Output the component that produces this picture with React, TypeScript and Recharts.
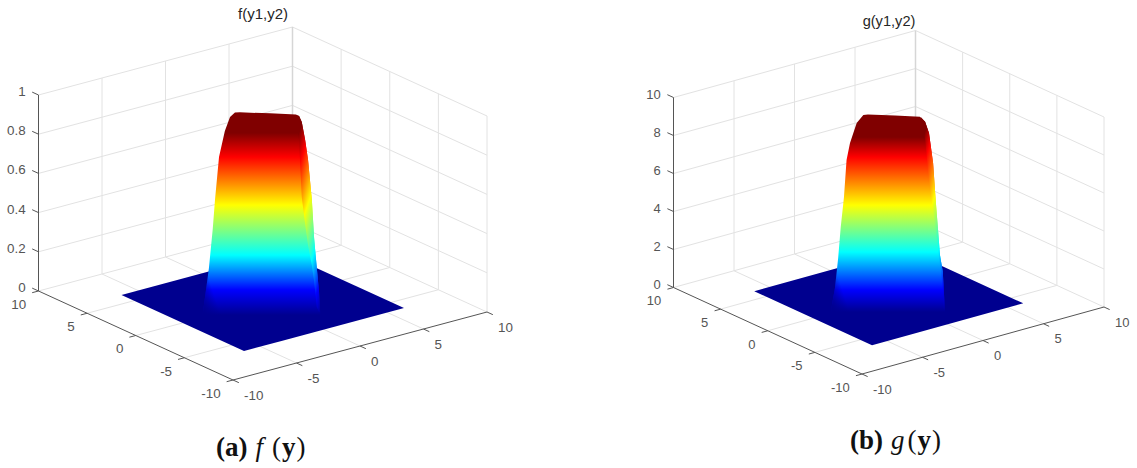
import { Area, ComposedChart, Line, Scatter, XAxis, YAxis } from 'recharts';

const WIDTH = 568;
const HEIGHT = 468;

const axisTicks = [-10, -5, 0, 5, 10];
const axisLabels = ['-10', '-5', '0', '5', '10'];
const fHeightTicks = [0, 0.2, 0.4, 0.6, 0.8, 1];
const fHeightLabels = ['0', '0.2', '0.4', '0.6', '0.8', '1'];
const gHeightTicks = [0, 2, 4, 6, 8, 10];
const gHeightLabels = ['0', '2', '4', '6', '8', '10'];

// surface outline seen from the view point: position across the plate and height
const fCrestSpan = [-2.67, -2.58, -2.4, -2.23, -2.13, -1.95, -1.69, -1.46, -1.24, -1.02, 0.32, 1.48, 1.62, 1.74, 1.89, 2.02, 2.19, 2.29, 2.41, 2.51, 2.56];
const fCrest = [-0.059, 0.018, 0.171, 0.37, 0.518, 0.737, 0.87, 0.941, 0.964, 0.965, 0.96, 0.954, 0.946, 0.916, 0.824, 0.722, 0.518, 0.324, 0.171, 0.048, -0.054];
const gCrestSpan = [-2.65, -2.5, -2.35, -2.23, -2.08, -1.96, -1.8, -1.49, -1.18, -0.97, 0.29, 1.45, 1.69, 1.87, 2.06, 2.18, 2.29, 2.38, 2.51, 2.56, 2.61];
const gCrest = [-0.497, 0.487, 2.07, 3.7, 5.28, 7.22, 8.12, 9.17, 9.59, 9.62, 9.57, 9.5, 9.24, 8.64, 7.07, 5.12, 3.54, 2.22, 1.34, 0.29, -0.67];

// narrow right hand face of the surface
const fFaceSpan = [1.53, 1.62, 1.74, 1.89, 2.02, 2.19, 2.29, 2.41, 2.51, 2.56];
const fFaceOuter = [0.949, 0.946, 0.916, 0.824, 0.722, 0.518, 0.324, 0.171, 0.048, -0.054];
const fFaceInner = [0.944, 0.819, 0.533, 0.395, 0.288, 0.186, 0.105, -0.028, -0.054, -0.054];
const gFaceSpan = [1.5, 1.69, 1.87, 2.06, 2.18, 2.29, 2.38, 2.51, 2.56, 2.61];
const gFaceOuter = [9.48, 9.24, 8.64, 7.07, 5.12, 3.54, 2.22, 1.34, 0.29, -0.67];
const gFaceInner = [9.4, 8.3, 6.0, 4.4, 3.4, 2.5, 1.6, 0.4, -0.6, -0.67];

// heights where the colormap reaches each color
const jetColors = ['#800000', '#ff0000', '#ffff00', '#00ffff', '#0000ff', '#00008f'];
const fJetHeights = [0.86, 0.737, 0.492, 0.237, 0.059, -0.069];
const gJetHeights = [8.43, 7.38, 4.85, 2.38, 0.38, -0.776];

const FONT = '"Liberation Sans", Arial, sans-serif';
const GRID = '#e2e2e2';
const AXIS = '#555555';
const LABEL = '#555555';

interface PanelConfig {
  id: string;
  left: number;
  front: [number, number];
  uEdge: [number, number];
  vEdge: [number, number];
  floorToTop: number;
  heightTicks: number[];
  heightLabels: string[];
  crestSpan: number[];
  crest: number[];
  foot: number;
  faceSpan: number[];
  faceOuter: number[];
  faceInner: number[];
  jetHeights: number[];
  plateEdge: number;
  title: string;
  titleX: number;
  titleY: number;
  titleSize: number;
  labelSize: number;
}

const panelF: PanelConfig = {
  id: 'f',
  left: 0,
  front: [233, 380],
  uEdge: [254, -68],
  vEdge: [-194.5, -89],
  floorToTop: 196,
  heightTicks: fHeightTicks,
  heightLabels: fHeightLabels,
  crestSpan: fCrestSpan,
  crest: fCrest,
  foot: -0.074,
  faceSpan: fFaceSpan,
  faceOuter: fFaceOuter,
  faceInner: fFaceInner,
  jetHeights: fJetHeights,
  plateEdge: 6.3,
  title: 'f(y1,y2)',
  titleX: 263,
  titleY: 19,
  titleSize: 15,
  labelSize: 13.4,
};

const panelG: PanelConfig = {
  id: 'g',
  left: 569,
  front: [862, 374],
  uEdge: [242, -67],
  vEdge: [-188.5, -86.5],
  floorToTop: 190,
  heightTicks: gHeightTicks,
  heightLabels: gHeightLabels,
  crestSpan: gCrestSpan,
  crest: gCrest,
  foot: -0.83,
  faceSpan: gFaceSpan,
  faceOuter: gFaceOuter,
  faceInner: gFaceInner,
  jetHeights: gJetHeights,
  plateEdge: 6.25,
  title: 'g(y1,y2)',
  titleX: 889,
  titleY: 26,
  titleSize: 14.6,
  labelSize: 13,
};

type Pt = { x: number; y: number };

function project(p: PanelConfig, u: number, v: number, z = 0): Pt {
  const top = p.heightTicks[p.heightTicks.length - 1];
  return {
    x: p.front[0] + ((u + 10) / 20) * p.uEdge[0] + ((v + 10) / 20) * p.vEdge[0],
    y: p.front[1] + ((u + 10) / 20) * p.uEdge[1] + ((v + 10) / 20) * p.vEdge[1] - (z / top) * p.floorToTop,
  };
}

// position on the picture plane, measured from the middle of the plate
function plane(p: PanelConfig, span: number, z: number): Pt {
  const mid = project(p, 0, 0);
  const top = p.heightTicks[p.heightTicks.length - 1];
  return {
    x: mid.x + (span * (p.uEdge[0] - p.vEdge[0])) / 20,
    y: mid.y - (z / top) * p.floorToTop,
  };
}

function gridLines(p: PanelConfig): Pt[][] {
  const lines: Pt[][] = [];
  const top = p.heightTicks[p.heightTicks.length - 1];
  p.heightTicks.forEach((z) => {
    lines.push([project(p, -10, 10, z), project(p, 10, 10, z), project(p, 10, -10, z)]);
  });
  axisTicks.forEach((t) => {
    if (t > -10 && t < 10) lines.push([project(p, t, 10, 0), project(p, t, 10, top)]);
    if (t > -10 && t < 10) lines.push([project(p, 10, t, 0), project(p, 10, t, top)]);
    if (t > -10 && t < 10) {
      lines.push([project(p, t, -10), project(p, t, 10)]);
      lines.push([project(p, -10, t), project(p, 10, t)]);
    }
  });
  lines.push([project(p, 10, -10, 0), project(p, 10, -10, top)]);
  return lines;
}

function axisLines(p: PanelConfig): Pt[][] {
  const top = p.heightTicks[p.heightTicks.length - 1];
  const lines: Pt[][] = [
    [project(p, -10, 10, 0), project(p, -10, 10, top)],
    [project(p, -10, 10), project(p, -10, -10), project(p, 10, -10)],
  ];
  p.heightTicks.forEach((z) => {
    lines.push([project(p, -10, 10, z), project(p, -10, 10.65, z)]);
  });
  axisTicks.forEach((t) => {
    lines.push([project(p, -10, t), project(p, -10.5, t)]);
    lines.push([project(p, t, -10), project(p, t, -10.6)]);
  });
  return lines;
}

function tickText(p: PanelConfig) {
  const rows: { x: number; y: number; text: string; anchor: string }[] = [];
  p.heightTicks.forEach((z, i) => {
    const at = project(p, -10, 10, z);
    rows.push({ x: at.x - 12.8, y: at.y - 3.5, text: p.heightLabels[i], anchor: 'end' });
  });
  axisTicks.forEach((t, i) => {
    const a = project(p, -10, t);
    rows.push({ x: a.x - 12.3, y: a.y + 13.3, text: axisLabels[i], anchor: 'end' });
    const b = project(p, t, -10);
    rows.push({ x: b.x + 11, y: b.y + 15, text: axisLabels[i], anchor: 'start' });
  });
  return rows;
}

function plateRows(p: PanelConfig) {
  const e = p.plateEdge;
  const l = project(p, -e, e);
  const f = project(p, -e, -e);
  const b = project(p, e, e);
  const r = project(p, e, -e);
  const along = (s: Pt, t: Pt, x: number) => s.y + ((x - s.x) / (t.x - s.x)) * (t.y - s.y);
  return [
    { x: l.x, range: [l.y, l.y] },
    { x: f.x, range: [along(l, b, f.x), f.y] },
    { x: b.x, range: [b.y, along(f, r, b.x)] },
    { x: r.x, range: [r.y, r.y] },
  ];
}

function Panel({ p }: { p: PanelConfig }) {
  const footY = plane(p, 0, p.foot).y;
  const crestRows = p.crestSpan.map((s, i) => {
    const at = plane(p, s, p.crest[i]);
    return { x: at.x, range: [at.y, footY] };
  });
  const faceRows = p.faceSpan.map((s, i) => {
    const outer = plane(p, s, p.faceOuter[i]);
    const inner = plane(p, s, p.faceInner[i]);
    return { x: outer.x, range: [outer.y, inner.y] };
  });
  const stopY = p.jetHeights.map((z) => plane(p, 0, z).y);
  const y0 = stopY[0];
  const y1 = stopY[stopY.length - 1];

  // colors on the face climb towards its outer edge
  const foldA = { x: faceRows[0].x, y: faceRows[0].range[1] };
  const last = faceRows[faceRows.length - 1];
  const foldB = { x: last.x, y: last.range[1] };
  const lean = (foldB.x - foldA.x) / (foldB.y - foldA.y);
  const climb = 2.2;
  const gx = climb;
  const gy = 1 - climb * lean;
  const norm = gx * gx + gy * gy;
  const faceAt = (s: number) => ({
    x: foldA.x - p.left + (gx * (s - foldA.y)) / norm,
    y: foldA.y + (gy * (s - foldA.y)) / norm,
  });
  const faceStart = faceAt(y0);
  const faceEnd = faceAt(y1);

  // the lower left corner sinks into the plate color
  const corner = { x: crestRows[0].x - p.left, y: footY - 2 };
  const fadeRows = crestRows.filter((r) => r.x < crestRows[0].x + 25);
  const fadeX = corner.x + 10;
  const fadeY = corner.y - 23;

  const stops = jetColors.map((c, i) => (
    <stop key={c} offset={(stopY[i] - y0) / (y1 - y0)} stopColor={c} />
  ));

  return (
    <div style={{ position: 'absolute', left: p.left, top: 0, width: WIDTH, height: HEIGHT }}>
      <ComposedChart width={WIDTH} height={HEIGHT} margin={{ top: 0, right: 0, bottom: 0, left: 0 }}>
        <defs>
          <linearGradient id={`jet-${p.id}`} gradientUnits="userSpaceOnUse" x1={0} x2={0} y1={y0} y2={y1}>
            {stops}
          </linearGradient>
          <linearGradient
            id={`jet-face-${p.id}`}
            gradientUnits="userSpaceOnUse"
            x1={faceStart.x}
            y1={faceStart.y}
            x2={faceEnd.x}
            y2={faceEnd.y}
          >
            {stops}
          </linearGradient>
          <linearGradient
            id={`fade-${p.id}`}
            gradientUnits="userSpaceOnUse"
            x1={fadeX}
            y1={fadeY}
            x2={fadeX - 15.5}
            y2={fadeY + 5.2}
          >
            <stop offset={0} stopColor="#00008f" stopOpacity={0} />
            <stop offset={1} stopColor="#00008f" stopOpacity={1} />
          </linearGradient>
        </defs>
        <XAxis type="number" dataKey="x" domain={[p.left, p.left + WIDTH]} hide allowDataOverflow />
        <YAxis type="number" dataKey="y" domain={[0, HEIGHT]} reversed hide allowDataOverflow />
        {gridLines(p).map((pts, i) => (
          <Line
            key={`grid-${i}`}
            data={pts}
            dataKey="y"
            stroke={GRID}
            strokeWidth={1}
            dot={false}
            activeDot={false}
            isAnimationActive={false}
            zIndex={10}
          />
        ))}
        <Line
          data={[project(p, 10, 10, 0), project(p, 10, 10, p.heightTicks[p.heightTicks.length - 1])]}
          dataKey="y"
          stroke="#d6d6d6"
          strokeWidth={1.5}
          dot={false}
          activeDot={false}
          isAnimationActive={false}
          zIndex={11}
        />
        {axisLines(p).map((pts, i) => (
          <Line
            key={`axis-${i}`}
            data={pts}
            dataKey="y"
            stroke={AXIS}
            strokeWidth={1}
            dot={false}
            activeDot={false}
            isAnimationActive={false}
            zIndex={20}
          />
        ))}
        <Area data={plateRows(p)} dataKey="range" type="linear" fill="#00008f" fillOpacity={1} stroke="none" dot={false} activeDot={false} isAnimationActive={false} zIndex={30} />
        <Area data={crestRows} dataKey="range" type="linear" fill={`url(#jet-${p.id})`} fillOpacity={1} stroke="none" dot={false} activeDot={false} isAnimationActive={false} zIndex={31} />
        <Area data={faceRows} dataKey="range" type="linear" fill={`url(#jet-face-${p.id})`} fillOpacity={1} stroke="none" dot={false} activeDot={false} isAnimationActive={false} zIndex={32} />
        <Area data={fadeRows} dataKey="range" type="linear" fill={`url(#fade-${p.id})`} fillOpacity={1} stroke="none" dot={false} activeDot={false} isAnimationActive={false} zIndex={33} />
        <Scatter
          data={tickText(p)}
          isAnimationActive={false}
          zIndex={40}
          shape={(s: any) => (
            <text
              x={s.cx}
              y={s.cy}
              textAnchor={s.payload.anchor}
              dominantBaseline="central"
              fontFamily={FONT}
              fontSize={p.labelSize}
              fill={LABEL}
            >
              {s.payload.text}
            </text>
          )}
        />
        <Scatter
          data={[{ x: p.titleX, y: p.titleY, text: p.title }]}
          isAnimationActive={false}
          zIndex={40}
          shape={(s: any) => (
            <text x={s.cx} y={s.cy} textAnchor="middle" fontFamily={FONT} fontSize={p.titleSize} fill="#262626">
              {s.payload.text}
            </text>
          )}
        />
      </ComposedChart>
    </div>
  );
}

function Caption({ x, y, tag, fn, gap }: { x: number; y: number; tag: string; fn: string; gap: number }) {
  return (
    <div
      style={{
        position: 'absolute',
        left: x,
        top: y,
        fontFamily: '"Liberation Serif", serif',
        fontSize: 27,
        lineHeight: '32px',
        whiteSpace: 'nowrap',
        color: '#111',
      }}
    >
      <b>({tag})</b>
      <i style={{ marginLeft: 8 }}>{fn}</i>
      <span style={{ marginLeft: gap }}>(</span>
      <b style={{ marginLeft: 1 }}>y</b>
      <span style={{ marginLeft: 1 }}>)</span>
    </div>
  );
}

export default function App() {
  return (
    <div style={{ position: 'absolute', left: 0, top: 0, width: 1137, height: HEIGHT, background: '#fff', overflow: 'hidden' }}>
      <Panel p={panelF} />
      <Panel p={panelG} />
      <Caption x={216} y={431} tag="a" fn="f" gap={9} />
      <Caption x={850} y={424} tag="b" fn="g" gap={3} />
    </div>
  );
}
